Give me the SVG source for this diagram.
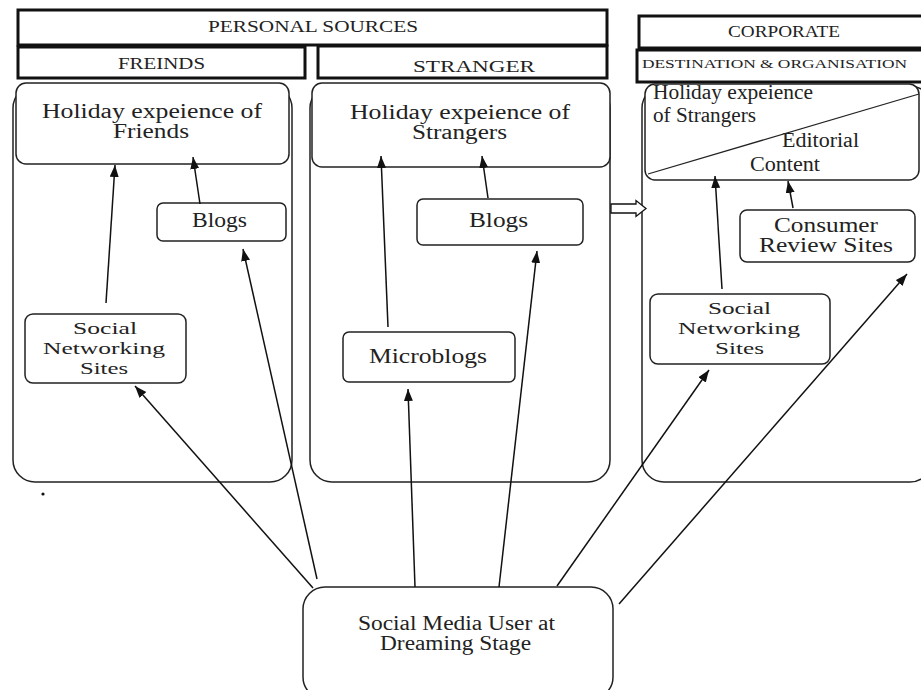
<svg xmlns="http://www.w3.org/2000/svg" width="921" height="690" viewBox="0 0 921 690">
  <style>
    text { font-family: "Liberation Serif", "Times New Roman", serif; fill: #222; }
    .hdr { fill: #fff; stroke: #111; stroke-width: 3; }
    .frame { fill: #fff; stroke: #222; stroke-width: 1.5; }
    .box { fill: #fff; stroke: #222; stroke-width: 1.5; }
    .t { font-size: 20px; }
    .t3 { font-size: 17.5px; }
    .th { font-size: 17px; }
    .ts { font-size: 13.5px; }
    .conn line { stroke: #111; stroke-width: 1.5; marker-end: url(#arrow); }
  </style>
  <defs>
    <marker id="arrow" markerUnits="userSpaceOnUse" markerWidth="13" markerHeight="10" refX="12" refY="4.5" orient="auto">
      <path d="M0,0 L12,4.5 L0,9 z" fill="#111"/>
    </marker>
  </defs>
  <rect width="921" height="690" fill="#fff"/>

  <!-- column headers -->
  <g id="hdr-personal">
    <rect class="hdr" x="18" y="10" width="589" height="35"/>
    <text class="th" x="208" y="32" textLength="210" lengthAdjust="spacingAndGlyphs">PERSONAL SOURCES</text>
  </g>
  <g id="hdr-friends">
    <rect class="hdr" x="18" y="47" width="287" height="31"/>
    <text class="th" x="118" y="69" textLength="87" lengthAdjust="spacingAndGlyphs">FREINDS</text>
  </g>
  <g id="hdr-stranger">
    <rect class="hdr" x="318" y="46" width="289" height="32"/>
    <text class="th" x="413" y="72" textLength="122" lengthAdjust="spacingAndGlyphs">STRANGER</text>
  </g>
  <g id="hdr-corporate">
    <rect class="hdr" x="639" y="16" width="290" height="32"/>
    <text class="th" x="728" y="37" textLength="112" lengthAdjust="spacingAndGlyphs">CORPORATE</text>
  </g>
  <g id="hdr-destination">
    <rect class="hdr" x="637" y="50" width="292" height="32"/>
    <text class="ts" x="642" y="68" textLength="265" lengthAdjust="spacingAndGlyphs">DESTINATION &amp; ORGANISATION</text>
  </g>

  <!-- column frames -->
  <g id="frame-friends"><rect class="frame" x="13" y="86" width="279" height="396" rx="22"/></g>
  <g id="frame-stranger"><rect class="frame" x="310" y="86" width="300" height="396" rx="22"/></g>
  <g id="frame-corporate"><rect class="frame" x="642" y="86" width="290" height="396" rx="22"/></g>

  <!-- top experience boxes -->
  <g id="exp-friends">
    <rect class="box" x="16" y="83" width="273" height="81" rx="10"/>
    <text class="t" x="42" y="118" textLength="220" lengthAdjust="spacingAndGlyphs">Holiday expeience of</text>
    <text class="t" x="113" y="138" textLength="76" lengthAdjust="spacingAndGlyphs">Friends</text>
  </g>
  <g id="exp-strangers">
    <rect class="box" x="312" y="83" width="298" height="84" rx="10"/>
    <text class="t" x="350" y="119" textLength="220" lengthAdjust="spacingAndGlyphs">Holiday expeience of</text>
    <text class="t" x="412" y="139" textLength="95" lengthAdjust="spacingAndGlyphs">Strangers</text>
  </g>
  <g id="exp-corporate">
    <rect class="box" x="645" y="84" width="274" height="96" rx="10"/>
    <line x1="648" y1="174" x2="919" y2="94" stroke="#222" stroke-width="1.3"/>
    <text class="t" x="653" y="99" textLength="160" lengthAdjust="spacingAndGlyphs">Holiday expeience</text>
    <text class="t" x="653" y="122" textLength="103" lengthAdjust="spacingAndGlyphs">of Strangers</text>
    <text class="t" x="782" y="147" textLength="77" lengthAdjust="spacingAndGlyphs">Editorial</text>
    <text class="t" x="750" y="171" textLength="70" lengthAdjust="spacingAndGlyphs">Content</text>
  </g>

  <!-- channel boxes -->
  <g id="blogs-friends">
    <rect class="box" x="157" y="203" width="129" height="38" rx="6"/>
    <text class="t" x="192" y="227" textLength="55" lengthAdjust="spacingAndGlyphs">Blogs</text>
  </g>
  <g id="blogs-strangers">
    <rect class="box" x="417" y="199" width="166" height="46" rx="6"/>
    <text class="t" x="469" y="227" textLength="59" lengthAdjust="spacingAndGlyphs">Blogs</text>
  </g>
  <g id="consumer-review">
    <rect class="box" x="740" y="210" width="175" height="52" rx="7"/>
    <text class="t" x="774" y="232" textLength="104" lengthAdjust="spacingAndGlyphs">Consumer</text>
    <text class="t" x="759" y="252" textLength="134" lengthAdjust="spacingAndGlyphs">Review Sites</text>
  </g>
  <g id="sns-friends">
    <rect class="box" x="25" y="314" width="161" height="69" rx="8"/>
    <text class="t3" x="73" y="334" textLength="64" lengthAdjust="spacingAndGlyphs">Social</text>
    <text class="t3" x="43" y="354" textLength="122" lengthAdjust="spacingAndGlyphs">Networking</text>
    <text class="t3" x="80" y="374" textLength="48" lengthAdjust="spacingAndGlyphs">Sites</text>
  </g>
  <g id="microblogs">
    <rect class="box" x="343" y="332" width="172" height="50" rx="6"/>
    <text class="t" x="369" y="363" textLength="118" lengthAdjust="spacingAndGlyphs">Microblogs</text>
  </g>
  <g id="sns-corporate">
    <rect class="box" x="650" y="294" width="180" height="70" rx="8"/>
    <text class="t3" x="708" y="314" textLength="63" lengthAdjust="spacingAndGlyphs">Social</text>
    <text class="t3" x="678" y="334" textLength="122" lengthAdjust="spacingAndGlyphs">Networking</text>
    <text class="t3" x="715" y="354" textLength="49" lengthAdjust="spacingAndGlyphs">Sites</text>
  </g>
  <g id="user">
    <rect class="box" x="303" y="587" width="310" height="112" rx="22"/>
    <text class="t" x="358" y="630" textLength="197" lengthAdjust="spacingAndGlyphs">Social Media User at</text>
    <text class="t" x="380" y="650" textLength="151" lengthAdjust="spacingAndGlyphs">Dreaming Stage</text>
  </g>

  <!-- stray bullet -->
  <circle cx="43" cy="494" r="1.6" fill="#111"/>

  <!-- connectors -->
  <g class="conn" id="connectors">
    <line x1="106" y1="303" x2="115" y2="165"/>
    <line x1="200" y1="204" x2="193" y2="157"/>
    <line x1="317" y1="579" x2="243" y2="249"/>
    <line x1="313" y1="588" x2="135" y2="386"/>
    <line x1="388" y1="327" x2="381" y2="156"/>
    <line x1="488" y1="198" x2="482" y2="156"/>
    <line x1="415" y1="587" x2="408" y2="389"/>
    <line x1="499" y1="587" x2="537" y2="251"/>
    <line x1="722" y1="289" x2="715" y2="176"/>
    <line x1="793" y1="208" x2="788" y2="181"/>
    <line x1="557" y1="586" x2="709" y2="370"/>
    <line x1="619" y1="604" x2="907" y2="274"/>
    <!-- hollow block arrow between stranger and corporate columns -->
    <path d="M611,204 L636,204 L636,200.5 L646,208.5 L636,216.5 L636,213 L611,213 Z" fill="#fff" stroke="#111" stroke-width="1.3"/>
  </g>
</svg>
